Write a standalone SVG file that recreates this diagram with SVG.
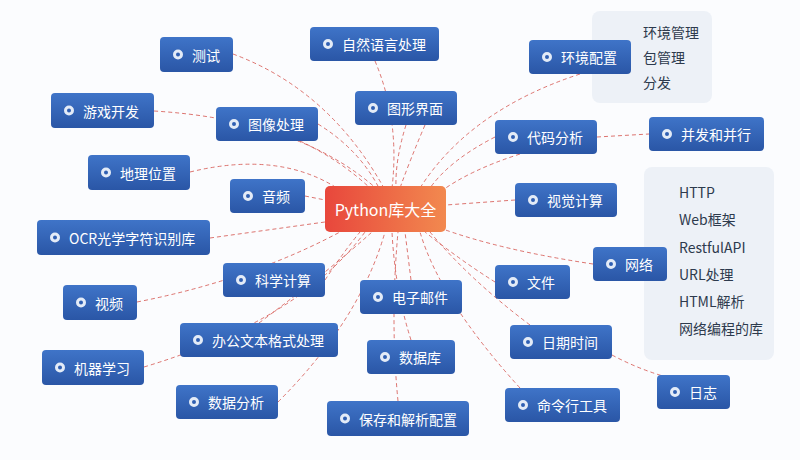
<svg xmlns="http://www.w3.org/2000/svg" width="800" height="460" viewBox="0 0 800 460">
<defs>
<linearGradient id="nb" x1="0" y1="0" x2="0" y2="1"><stop offset="0" stop-color="#3f74c8"/><stop offset="1" stop-color="#2a56a6"/></linearGradient>
<linearGradient id="cg" x1="0" y1="0" x2="1" y2="0"><stop offset="0" stop-color="#e8473c"/><stop offset="1" stop-color="#f2894f"/></linearGradient>
</defs>
<style>
.n rect{fill:url(#nb);rx:4px}
.n text,.c text{font-family:"Noto Sans CJK SC","Liberation Sans",sans-serif;font-size:14px;fill:#fff;dominant-baseline:central}
.b{fill:#2f5fb2;stroke:#e3ebf7;stroke-width:3}
#links path{fill:none;stroke:#d4524c;stroke-width:1;stroke-dasharray:4 3;opacity:.8}
.p{fill:#edf1f7}
.pt{font-family:"Noto Sans CJK SC","Liberation Sans",sans-serif;font-size:14px;fill:#2d3a4d}
</style>
<rect width="800" height="460" fill="#fbfcfe"/>
<rect class="p" x="592" y="11" width="120" height="92" rx="8"/>
<text class="pt" x="643" y="38">环境管理</text><text class="pt" x="643" y="63">包管理</text><text class="pt" x="643" y="88">分发</text>
<rect class="p" x="644" y="167" width="130" height="193" rx="8"/>
<text class="pt" x="679" y="198">HTTP</text><text class="pt" x="679" y="225">Web框架</text><text class="pt" x="679" y="253">RestfulAPI</text><text class="pt" x="679" y="280">URL处理</text><text class="pt" x="679" y="307">HTML解析</text><text class="pt" x="679" y="334">网络编程的库</text>
<g id="links">
<path d="M233 54 Q330 90 385 190"/>
<path d="M375 61 Q400 120 392 188"/>
<path d="M406 125 Q395 160 396 188"/>
<path d="M425 125 Q410 160 400 188"/>
<path d="M580 74 Q470 110 420 188"/>
<path d="M154 111 Q300 120 378 190"/>
<path d="M318 124 Q360 150 380 190"/>
<path d="M300 141 Q340 160 370 188"/>
<path d="M495 137 Q450 160 430 188"/>
<path d="M520 154 Q470 170 440 192"/>
<path d="M597 137 L649 134"/>
<path d="M190 172 Q280 150 340 190"/>
<path d="M305 196 L325 200"/>
<path d="M515 200 L446 205"/>
<path d="M210 238 L325 222"/>
<path d="M593 264 Q500 250 440 228"/>
<path d="M325 280 Q345 250 360 232"/>
<path d="M495 282 Q460 260 425 232"/>
<path d="M411 280 L405 232"/>
<path d="M137 302 Q250 280 340 232"/>
<path d="M259 323 Q330 270 372 232"/>
<path d="M530 325 Q470 280 430 232"/>
<path d="M612 355 Q640 370 670 378"/>
<path d="M411 340 Q395 290 392 232"/>
<path d="M144 367 Q300 320 365 232"/>
<path d="M278 402 Q360 320 385 232"/>
<path d="M520 388 Q440 300 420 232"/>
<path d="M398 401 Q390 320 398 232"/>
</g>
<g id="center" class="c"><rect x="325" y="186" width="121" height="46" rx="5" fill="url(#cg)"/><text x="385.5" y="209" text-anchor="middle" style="font-size:16px">Python库大全</text></g>
<g id="n1" class="n"><rect x="160" y="37" width="73" height="35"/><circle class="b" cx="178" cy="54.5" r="3.5"/><text x="192" y="54.5">测试</text></g>
<g id="n2" class="n"><rect x="310" y="27" width="129" height="34"/><circle class="b" cx="328" cy="44" r="3.5"/><text x="342" y="44">自然语言处理</text></g>
<g id="n3" class="n"><rect x="529" y="40" width="102" height="34"/><circle class="b" cx="547" cy="57" r="3.5"/><text x="561" y="57">环境配置</text></g>
<g id="n4" class="n"><rect x="355" y="91" width="102" height="34"/><circle class="b" cx="373" cy="108" r="3.5"/><text x="387" y="108">图形界面</text></g>
<g id="n5" class="n"><rect x="51" y="93" width="103" height="35"/><circle class="b" cx="69" cy="110.5" r="3.5"/><text x="83" y="110.5">游戏开发</text></g>
<g id="n6" class="n"><rect x="216" y="107" width="102" height="34"/><circle class="b" cx="234" cy="124" r="3.5"/><text x="248" y="124">图像处理</text></g>
<g id="n7" class="n"><rect x="495" y="120" width="102" height="34"/><circle class="b" cx="513" cy="137" r="3.5"/><text x="527" y="137">代码分析</text></g>
<g id="n8" class="n"><rect x="649" y="117" width="115" height="34"/><circle class="b" cx="667" cy="134" r="3.5"/><text x="681" y="134">并发和并行</text></g>
<g id="n9" class="n"><rect x="88" y="155" width="102" height="35"/><circle class="b" cx="106" cy="172.5" r="3.5"/><text x="120" y="172.5">地理位置</text></g>
<g id="n10" class="n"><rect x="230" y="179" width="75" height="34"/><circle class="b" cx="248" cy="196" r="3.5"/><text x="262" y="196">音频</text></g>
<g id="n11" class="n"><rect x="515" y="183" width="102" height="34"/><circle class="b" cx="533" cy="200" r="3.5"/><text x="547" y="200">视觉计算</text></g>
<g id="n12" class="n"><rect x="37" y="220" width="173" height="35"/><circle class="b" cx="55" cy="237.5" r="3.5"/><text x="69" y="237.5">OCR光学字符识别库</text></g>
<g id="n13" class="n"><rect x="593" y="247" width="74" height="34"/><circle class="b" cx="611" cy="264" r="3.5"/><text x="625" y="264">网络</text></g>
<g id="n14" class="n"><rect x="223" y="263" width="102" height="34"/><circle class="b" cx="241" cy="280" r="3.5"/><text x="255" y="280">科学计算</text></g>
<g id="n15" class="n"><rect x="495" y="265" width="75" height="34"/><circle class="b" cx="513" cy="282" r="3.5"/><text x="527" y="282">文件</text></g>
<g id="n16" class="n"><rect x="360" y="280" width="102" height="34"/><circle class="b" cx="378" cy="297" r="3.5"/><text x="392" y="297">电子邮件</text></g>
<g id="n17" class="n"><rect x="63" y="285" width="74" height="35"/><circle class="b" cx="81" cy="302.5" r="3.5"/><text x="95" y="302.5">视频</text></g>
<g id="n18" class="n"><rect x="180" y="323" width="158" height="34"/><circle class="b" cx="198" cy="340" r="3.5"/><text x="212" y="340">办公文本格式处理</text></g>
<g id="n19" class="n"><rect x="510" y="325" width="102" height="34"/><circle class="b" cx="528" cy="342" r="3.5"/><text x="542" y="342">日期时间</text></g>
<g id="n20" class="n"><rect x="367" y="340" width="88" height="34"/><circle class="b" cx="385" cy="357" r="3.5"/><text x="399" y="357">数据库</text></g>
<g id="n21" class="n"><rect x="42" y="350" width="102" height="35"/><circle class="b" cx="60" cy="367.5" r="3.5"/><text x="74" y="367.5">机器学习</text></g>
<g id="n22" class="n"><rect x="657" y="375" width="73" height="34"/><circle class="b" cx="675" cy="392" r="3.5"/><text x="689" y="392">日志</text></g>
<g id="n23" class="n"><rect x="176" y="385" width="102" height="34"/><circle class="b" cx="194" cy="402" r="3.5"/><text x="208" y="402">数据分析</text></g>
<g id="n24" class="n"><rect x="505" y="388" width="115" height="34"/><circle class="b" cx="523" cy="405" r="3.5"/><text x="537" y="405">命令行工具</text></g>
<g id="n25" class="n"><rect x="327" y="401" width="142" height="35"/><circle class="b" cx="345" cy="418.5" r="3.5"/><text x="359" y="418.5">保存和解析配置</text></g>
</svg>
